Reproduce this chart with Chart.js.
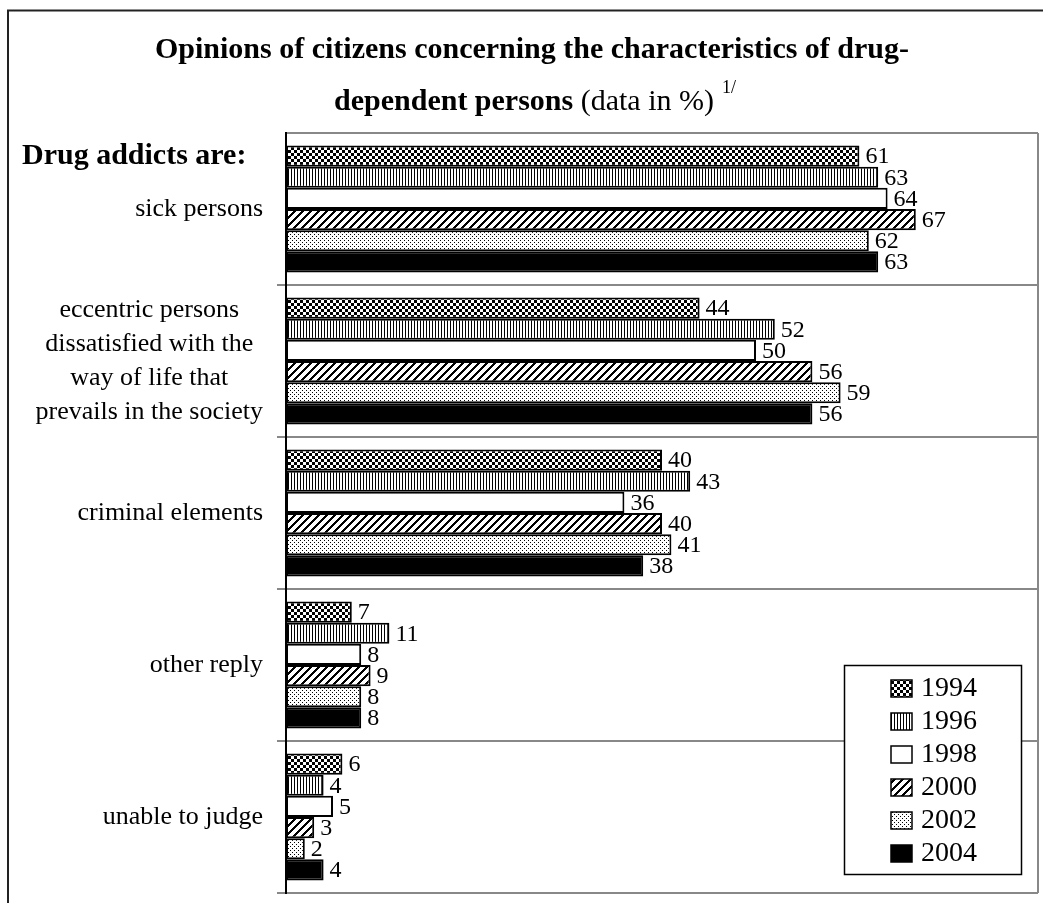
<!DOCTYPE html>
<html>
<head>
<meta charset="utf-8">
<script src="https://cdn.jsdelivr.net/npm/chart.js@4/dist/chart.umd.min.js"></script>
<style>
body{margin:0;background:#fff;}
#wrap{position:relative;width:1043px;height:903px;}
</style>
</head>
<body>
<div id="wrap"><canvas id="chart"></canvas></div>
<script>
// answers, one row per category (multi-line labels as arrays)
const categories=[
 ['sick persons'],
 ['eccentric persons','dissatisfied with the','way of life that','prevails in the society'],
 ['criminal elements'],
 ['other reply'],
 ['unable to judge']
];
const years=['1994','1996','1998','2000','2002','2004'];
const v1994=[61,44,40,7,6];
const v1996=[63,52,43,11,4];
const v1998=[64,50,36,8,5];
const v2000=[67,56,40,9,3];
const v2002=[62,59,41,8,2];
const v2004=[63,56,38,8,4];

const SERIF="'Liberation Serif','Times New Roman',serif";

// black & white fill patterns
function tile(w,h,fn){
 let c=document.createElement('canvas');c.width=w;c.height=h;
 let g=c.getContext('2d');g.fillStyle='#fff';g.fillRect(0,0,w,h);g.fillStyle='#000';
 fn(g);
 return document.createElement('canvas').getContext('2d').createPattern(c,'repeat');
}
const pCheck=tile(6,6,g=>{g.fillRect(0,0,3,3);g.fillRect(3,3,3,3);});
const pVert=tile(3,3,g=>{g.fillRect(0,0,1,3);});
const pDiag=tile(8,8,g=>{for(let y=0;y<8;y++)for(let x=0;x<8;x++)if((x+y)%8<3)g.fillRect(x,y,1,1);});
const pDots=tile(4,4,g=>{g.fillRect(0,0,1,1);g.fillRect(2,2,1,1);});
const fills=[pCheck,pVert,'#fff',pDiag,pDots,'#000'];
const series=[v1994,v1996,v1998,v2000,v2002,v2004];

const pageDecor={
 id:'pageDecor',
 afterDraw(chart){
  const ctx=chart.ctx, a=chart.chartArea, ys=chart.scales.y;
  ctx.save();
  // outer frame
  ctx.strokeStyle='#222';ctx.lineWidth=2;
  ctx.beginPath();ctx.moveTo(8,903);ctx.lineTo(8,10.5);ctx.lineTo(1043,10.5);ctx.stroke();
  // plot right edge
  ctx.strokeStyle='#888';ctx.lineWidth=2;
  ctx.beginPath();ctx.moveTo(a.right,a.top);ctx.lineTo(a.right,a.bottom);ctx.stroke();

  // title
  ctx.fillStyle='#000';ctx.textBaseline='alphabetic';
  ctx.font='bold 30px '+SERIF;ctx.textAlign='center';
  ctx.fillText('Opinions of citizens concerning the characteristics of drug-',532,58);
  ctx.textAlign='left';
  const b='dependent persons', r=' (data in %)', s='1/';
  ctx.font='bold 30px '+SERIF;const wb=ctx.measureText(b).width;
  ctx.font='30px '+SERIF;const wr=ctx.measureText(r).width;
  ctx.font='18px '+SERIF;const ws=ctx.measureText(s).width;
  let x=535-(wb+wr+8+ws)/2;
  ctx.font='bold 30px '+SERIF;ctx.fillText(b,x,110);x+=wb;
  ctx.font='30px '+SERIF;ctx.fillText(r,x,110);x+=wr+8;
  ctx.font='18px '+SERIF;ctx.fillText(s,x,93);

  ctx.font='bold 30px '+SERIF;
  ctx.fillText('Drug addicts are:',22,164);

  // category labels, centred block right-aligned to the axis
  ctx.font='26px '+SERIF;ctx.textAlign='center';ctx.textBaseline='middle';
  chart.data.labels.forEach((lines,i)=>{
   const yc=ys.getPixelForValue(i);
   const w=Math.max(...lines.map(t=>ctx.measureText(t).width));
   const cx=263-w/2;
   lines.forEach((t,k)=>ctx.fillText(t,cx,yc+(k-(lines.length-1)/2)*34));
  });

  // legend box
  ctx.fillStyle='#fff';ctx.fillRect(844,665,178,210);
  ctx.strokeStyle='#000';ctx.lineWidth=1.5;ctx.strokeRect(844.5,665.5,177,209);
  ctx.textAlign='left';ctx.font='28px '+SERIF;
  chart.data.datasets.forEach((ds,i)=>{
   const yc=688+i*33;
   ctx.fillStyle=ds.backgroundColor;ctx.fillRect(891,yc-8,21,17);
   ctx.strokeStyle='#000';ctx.lineWidth=1.5;ctx.strokeRect(891,yc-8,21,17);
   ctx.fillStyle='#000';ctx.fillText(ds.label,921,yc+1);
  });
  ctx.restore();
 },
 afterDatasetsDraw(chart){
  // value labels at bar ends
  const ctx=chart.ctx;
  ctx.save();
  ctx.font='24px '+SERIF;ctx.fillStyle='#000';ctx.textAlign='left';ctx.textBaseline='middle';
  chart.data.datasets.forEach((ds,i)=>{
   chart.getDatasetMeta(i).data.forEach((bar,j)=>{
    ctx.fillText(String(ds.data[j]),bar.x+6,bar.y+1);
   });
  });
  ctx.restore();
 }
};

new Chart(document.getElementById('chart'),{
 type:'bar',
 data:{
  labels:categories,
  datasets:years.map((y,i)=>({label:y,data:series[i],backgroundColor:fills[i],borderColor:'#000',borderWidth:2,borderSkipped:false}))
 },
 options:{
  indexAxis:'y',responsive:true,maintainAspectRatio:false,animation:false,
  layout:{padding:{left:0,top:133,right:5,bottom:10}},
  datasets:{bar:{categoryPercentage:0.835,barPercentage:1}},
  plugins:{legend:{display:false},tooltip:{enabled:false}},
  scales:{
   x:{display:false,min:0,max:80},
   y:{
    afterFit(scale){scale.width=286;},
    ticks:{display:false},
    grid:{offset:true,color:'#888',lineWidth:2,tickLength:9,
     tickColor:c=>c.index===0?'rgba(0,0,0,0)':'#888'},
    border:{display:true,color:'#000',width:2}
   }
  }
 },
 plugins:[pageDecor]
});
</script>
</body>
</html>
